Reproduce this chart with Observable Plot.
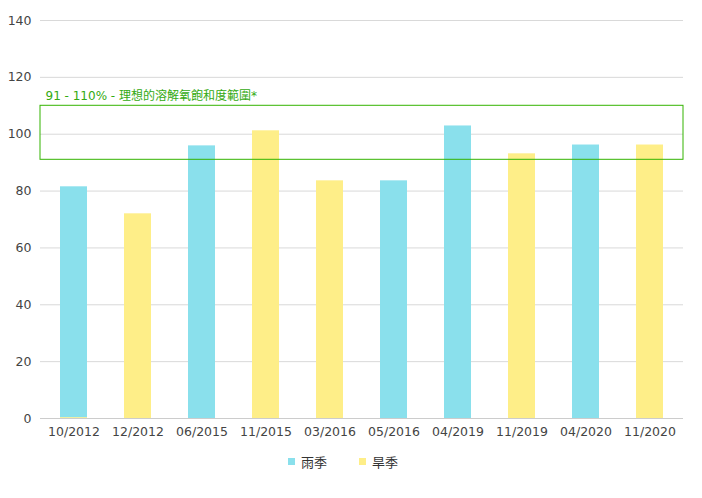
<!DOCTYPE html>
<html>
<head>
<meta charset="utf-8">
<script src="https://cdn.jsdelivr.net/npm/d3@7"></script>
<script src="https://cdn.jsdelivr.net/npm/@observablehq/plot@0.6"></script>
<style>
  body { margin: 0; background: #fff; font-family: "DejaVu Sans", "Noto Sans CJK TC", sans-serif; }
  #chart { width: 702px; }
  .legend { display: flex; justify-content: center; align-items: center; font-size: 13px; color: #333; margin-top: 7px; padding-right: 16px; font-family: "Noto Sans CJK TC", sans-serif; }
  .legend .item { display: flex; align-items: center; margin: 0 16px; }
  .legend .sw { width: 7px; height: 7px; margin-right: 6px; }
</style>
</head>
<body>
<div id="chart"></div>
<script>
const categories = ["10/2012","12/2012","06/2015","11/2015","03/2016","05/2016","04/2019","11/2019","04/2020","11/2020"];
const rainSeason = [81.2, null, 95.9, null, null, 83.6, 102.9, null, 96.2, null];
const drySeason  = [0.3, 72.0, null, 101.2, 83.6, null, null, 93.1, null, 96.2];
const seriesNames = ["雨季", "旱季"];
const seriesColors = ["#8ae0ec", "#feee88"];
const idealRange = [91, 110];
const idealLabel = "91 - 110% - 理想的溶解氧飽和度範圍*";
const yTicks = [0, 20, 40, 60, 80, 100, 120, 140];

const data = [];
categories.forEach((c, i) => {
  if (drySeason[i] != null) data.push({cat: c, series: seriesNames[1], value: drySeason[i]});
  if (rainSeason[i] != null) data.push({cat: c, series: seriesNames[0], value: rainSeason[i]});
});

const chart = Plot.plot({
  width: 702,
  height: 445,
  marginLeft: 40,
  marginRight: 19,
  marginTop: 20,
  marginBottom: 27,
  style: { fontFamily: '"DejaVu Sans", "Noto Sans CJK TC", sans-serif', fontSize: "12.5px", color: "#444", background: "#fff" },
  x: { domain: categories, paddingInner: 0.58, paddingOuter: 0.3, label: null },
  y: { domain: [0, 140], label: null },
  color: { domain: seriesNames, range: seriesColors },
  marks: [
    Plot.gridY(yTicks.filter(t => t > 0), { stroke: "#d9d9d9", strokeOpacity: 1 }),
    Plot.barY(data, { x: "cat", y: "value", fill: "series" }),
    Plot.ruleY([0], { stroke: "#cccccc" }),
    Plot.rect([idealRange], { y1: d => d[0], y2: d => d[1], fill: "none", stroke: "#33b300", strokeWidth: 1 }),
    Plot.text([idealLabel], { text: d => d, y: idealRange[1], frameAnchor: "left", textAnchor: "start", dx: 5, dy: -9.5, fill: "#33aa11", fontSize: 12 }),
    Plot.axisY({ ticks: yTicks, tickSize: 0, tickPadding: 9, label: null, fill: "#444" }),
    Plot.axisX({ tickSize: 0, tickPadding: 9, label: null, fill: "#444" })
  ]
});
document.getElementById("chart").appendChild(chart);

const legend = document.createElement("div");
legend.className = "legend";
seriesNames.forEach((n, i) => {
  const it = document.createElement("div");
  it.className = "item";
  const sw = document.createElement("span");
  sw.className = "sw";
  sw.style.background = seriesColors[i];
  const t = document.createElement("span");
  t.textContent = n;
  it.appendChild(sw); it.appendChild(t);
  legend.appendChild(it);
});
document.getElementById("chart").appendChild(legend);
</script>
</body>
</html>
